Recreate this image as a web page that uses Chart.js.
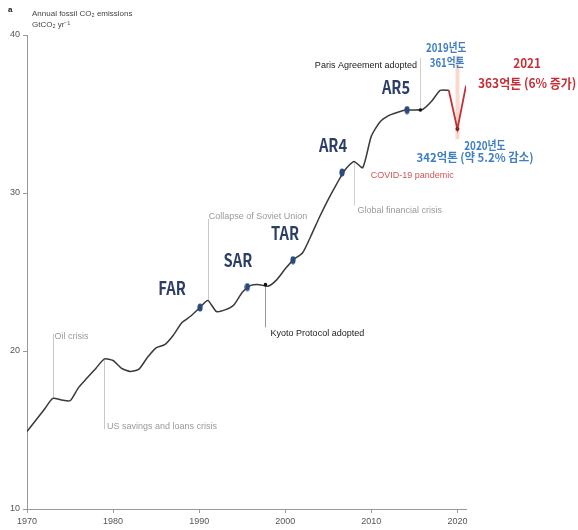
<!DOCTYPE html>
<html>
<head>
<meta charset="utf-8">
<script src="https://cdn.jsdelivr.net/npm/chart.js@4/dist/chart.umd.min.js"></script>
<style>
  html, body { margin: 0; padding: 0; background: #fff; }
  #wrap { width: 578px; height: 530px; position: relative; }
</style>
</head>
<body>
<div id="wrap"><canvas id="co2Chart" width="578" height="530"></canvas></div>
<script>
// fossil CO2 emissions, GtCO2 per year
const years = [1970, 1971, 1972, 1973, 1974, 1975, 1976, 1977, 1978, 1979,
  1980, 1981, 1982, 1983, 1984, 1985, 1986, 1987, 1988, 1989,
  1990, 1991, 1992, 1993, 1994, 1995, 1996, 1997, 1998, 1999,
  2000, 2001, 2002, 2003, 2004, 2005, 2006, 2007, 2008, 2009,
  2010, 2011, 2012, 2013, 2014, 2015, 2016, 2017, 2018, 2019];
const emissions = [14.9, 15.6, 16.3, 17.0, 16.9, 16.85, 17.7, 18.3, 18.9, 19.5,
  19.4, 18.9, 18.7, 18.85, 19.6, 20.2, 20.4, 21.0, 21.8, 22.2,
  22.7, 23.2, 22.5, 22.6, 22.9, 23.7, 24.15, 24.2, 24.1, 24.5,
  25.2, 25.8, 26.2, 27.3, 28.5, 29.6, 30.6, 31.5, 32.0, 31.6,
  33.6, 34.5, 34.9, 35.1, 35.25, 35.25, 35.3, 35.8, 36.5, 36.5];

// covid drop and rebound
const covidYears = [2019, 2020, 2021];
const covidValues = [36.5, 34.05, 36.8];

// IPCC assessment reports
const reportNames = ['FAR', 'SAR', 'TAR', 'AR4', 'AR5'];
const reportYears = [1990.1, 1995.6, 2000.9, 2006.6, 2014.15];
const reportValues = [22.75, 24.05, 25.75, 31.3, 35.25];

// agreements (small black dots)
const eventYears = [1997.7, 2015.7];
const eventValues = [24.2, 35.25];

const yTicks = [10, 20, 30, 40];

// navy ellipse used as point style
function ellipseMarker() {
  const c = document.createElement('canvas');
  c.width = 6; c.height = 9;
  const g = c.getContext('2d');
  g.fillStyle = '#2b4a7c';
  g.beginPath();
  g.ellipse(3, 4.5, 2.6, 4, 0, 0, Math.PI * 2);
  g.fill();
  return c;
}

const navy = '#2c3d66';
const blue = '#3f7fc1';
const red = '#c62f36';
const grayText = '#9a9a9a';
const sans = '"Liberation Sans", Arial, sans-serif';
const kfont = '"Noto Sans CJK KR", "Noto Sans", sans-serif';

// leader lines: [year, fromValue, toValue, colour, width]
const leaders = [
  [1973, 17.0, 21.1, '#c8c8c8', 1],
  [1979, 19.5, 15.05, '#c8c8c8', 1],
  [1991, 23.2, 28.35, '#c8c8c8', 1],
  [1997.7, 24.2, 21.5, '#999', 1],
  [2008, 32.0, 29.2, '#d0d0d0', 1],
  [2015.7, 35.25, 38.55, '#d0d0d0', 1],
  [2020, 38.7, 33.4, 'rgba(248,196,176,0.65)', 4]
];

// labels: [text, year, value, align, colour, font, xscale]
const labels = [
  ['Oil crisis', 1973.2, 20.9, 'left', grayText, '9px ' + sans, 1],
  ['US savings and loans crisis', 1979.3, 15.25, 'left', grayText, '9px ' + sans, 1],
  ['Collapse of Soviet Union', 1991.1, 28.54, 'left', grayText, '9px ' + sans, 1],
  ['Kyoto Protocol adopted', 1998.3, 21.08, 'left', '#222', '9px ' + sans, 1],
  ['Global financial crisis', 2008.4, 28.86, 'left', grayText, '9px ' + sans, 1],
  ['Paris Agreement adopted', 2015.3, 38.1, 'right', '#222', '9px ' + sans, 1],
  ['COVID-19 pandemic', 2014.75, 31.08, 'center', '#d05555', '9px ' + sans, 1],
  ['FAR', 1986.85, 24.0, 'center', navy, 'bold 18px ' + kfont, 0.82],
  ['SAR', 1994.5, 25.76, 'center', navy, 'bold 18px ' + kfont, 0.82],
  ['TAR', 1999.97, 27.47, 'center', navy, 'bold 18px ' + kfont, 0.82],
  ['AR4', 2005.55, 33.04, 'center', navy, 'bold 18px ' + kfont, 0.82],
  ['AR5', 2012.87, 36.71, 'center', navy, 'bold 18px ' + kfont, 0.82],
  ['2019년도', 2018.7, 39.24, 'center', blue, 'bold 12px ' + kfont, 0.8],
  ['361억톤', 2018.8, 38.29, 'center', blue, 'bold 12px ' + kfont, 0.8],
  ['2021', 2028.1, 38.23, 'center', red, 'bold 13px ' + kfont, 0.9],
  ['363억톤 (6% 증가)', 2028.1, 36.96, 'center', red, 'bold 13px ' + kfont, 0.92],
  ['2020년도', 2023.2, 33.04, 'center', blue, 'bold 12px ' + kfont, 0.82],
  ['342억톤 (약 5.2% 감소)', 2022.05, 32.22, 'center', blue, 'bold 12px ' + kfont, 0.95]
];

const notesPlugin = {
  id: 'notes',
  beforeDatasetsDraw(chart) {
    const { ctx, scales: { x, y } } = chart;
    ctx.save();
    leaders.forEach(l => {
      ctx.strokeStyle = l[3];
      ctx.lineWidth = l[4];
      const px = Math.round(x.getPixelForValue(l[0])) + 0.5;
      ctx.beginPath();
      ctx.moveTo(px, y.getPixelForValue(l[1]));
      ctx.lineTo(px, y.getPixelForValue(l[2]));
      ctx.stroke();
    });
    ctx.restore();
  },
  afterDatasetsDraw(chart) {
    const { ctx, scales: { x, y } } = chart;
    ctx.save();
    ctx.textBaseline = 'middle';
    labels.forEach(l => {
      ctx.save();
      ctx.font = l[5];
      ctx.fillStyle = l[4];
      ctx.textAlign = l[3];
      ctx.translate(x.getPixelForValue(l[1]), y.getPixelForValue(l[2]));
      ctx.scale(l[6], 1);
      ctx.fillText(l[0], 0, 0);
      ctx.restore();
    });
    // panel header
    ctx.textAlign = 'left';
    ctx.fillStyle = '#222';
    ctx.font = 'bold 8px ' + sans;
    ctx.fillText('a', 8, 10);
    ctx.fillStyle = '#444';
    ctx.font = '8px ' + sans;
    ctx.fillText('Annual fossil CO₂ emissions', 32, 14);
    ctx.fillText('GtCO₂ yr⁻¹', 32, 25);
    ctx.restore();
  }
};

const ctx = document.getElementById('co2Chart').getContext('2d');
const co2Chart = new Chart(ctx, {
  type: 'line',
  data: {
    datasets: [
      {
        label: 'Fossil CO2',
        data: years.map((yr, i) => ({ x: yr, y: emissions[i] })),
        borderColor: '#3a3a3a',
        borderWidth: 1.5,
        pointRadius: 0,
        tension: 0.2,
        order: 3
      },
      {
        label: 'COVID',
        data: covidYears.map((yr, i) => ({ x: yr, y: covidValues[i] })),
        borderColor: red,
        borderWidth: 1.8,
        pointRadius: [0, 2, 0],
        pointBackgroundColor: '#8a1f24',
        pointBorderWidth: 0,
        tension: 0,
        order: 2
      },
      {
        type: 'scatter',
        label: 'Reports',
        data: reportYears.map((yr, i) => ({ x: yr, y: reportValues[i] })),
        pointStyle: ellipseMarker(),
        order: 1
      },
      {
        type: 'scatter',
        label: 'Events',
        data: eventYears.map((yr, i) => ({ x: yr, y: eventValues[i] })),
        pointRadius: 1.8,
        pointBackgroundColor: '#111',
        pointBorderWidth: 0,
        order: 1
      }
    ]
  },
  options: {
    responsive: false,
    animation: false,
    layout: { padding: { top: 35, right: 112, left: 0, bottom: 0 } },
    plugins: {
      legend: { display: false },
      tooltip: { enabled: false }
    },
    scales: {
      x: {
        type: 'linear',
        min: 1970,
        max: 2021,
        afterFit: s => { s.height = 21; },
        afterBuildTicks: s => { s.ticks = [1970, 1980, 1990, 2000, 2010, 2020].map(v => ({ value: v })); },
        grid: { drawOnChartArea: false, drawTicks: true, tickLength: 4, color: '#999' },
        border: { color: '#999', width: 1 },
        ticks: {
          callback: v => String(v),
          font: { family: sans, size: 9 },
          color: '#555',
          padding: 3,
          maxRotation: 0
        }
      },
      y: {
        min: 10,
        max: 40,
        afterFit: s => { s.width = 27; },
        afterBuildTicks: s => { s.ticks = yTicks.map(v => ({ value: v })); },
        grid: { drawOnChartArea: false, drawTicks: true, tickLength: 4, color: '#999' },
        border: { color: '#999', width: 1 },
        ticks: {
          font: { family: sans, size: 9 },
          color: '#555',
          padding: 3
        }
      }
    }
  },
  plugins: [notesPlugin]
});
</script>
</body>
</html>
